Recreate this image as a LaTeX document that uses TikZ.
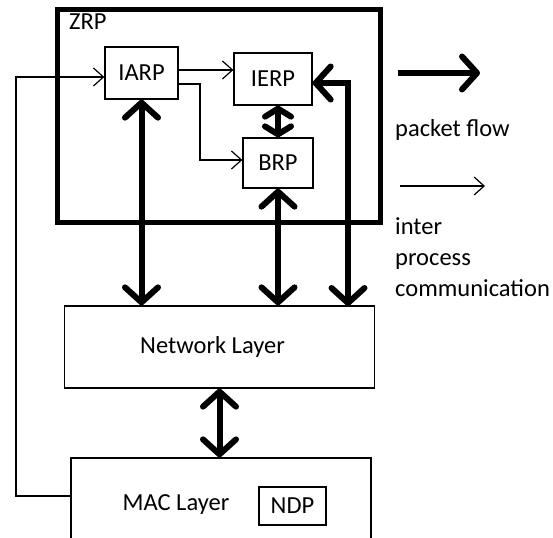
\documentclass[tikz,border=0pt]{standalone}
\usepackage{fontspec}
\setmainfont{Carlito}
\usetikzlibrary{arrows.meta}
\tikzset{
  procbox/.style={rectangle,draw,line width=1.3pt,inner sep=0pt,font=\fontsize{24.5}{29}\selectfont},
  zonebox/.style={rectangle,draw,line width=5pt,inner sep=0pt},
  plainlbl/.style={inner sep=0pt,font=\fontsize{24.5}{31}\selectfont},
  pktboth/.style={{Straight Barb[length=15pt,width=33pt,round]}-{Straight Barb[length=15pt,width=33pt,round]},line width=6pt},
  pktshort/.style={{Straight Barb[length=8pt,width=26pt,round]}-{Straight Barb[length=8pt,width=26pt,round]},line width=6pt},
  pktone/.style={-{Straight Barb[length=15pt,width=33pt,round]},line width=6pt},
  ipc/.style={-{Straight Barb[length=10pt,width=18pt]},line width=1.2pt}
}

\begin{document}
\begin{tikzpicture}[x=1pt,y=-1pt]
  \useasboundingbox (0,0) rectangle (553,537);
  \clip (0,0) rectangle (553,537);
  % zone routing block
  \node[zonebox,minimum width=323pt,minimum height=212pt] (zrp) at (218.5,116) {};
  \node[plainlbl,anchor=west] (zrplbl) at (69,22) {ZRP};
  \node[procbox,minimum width=73pt,minimum height=52pt] (iarp) at (141.5,73) {IARP};
  \node[procbox,minimum width=78pt,minimum height=52pt] (ierp) at (273,79) {IERP};
  \node[procbox,minimum width=70pt,minimum height=50pt] (brp) at (278,163) {BRP};
  % layers
  \node[procbox,minimum width=310pt,minimum height=82pt] (net) at (219.5,347) {};
  \node[plainlbl] (netlbl) at (212.5,347) {Network Layer};
  \node[procbox,minimum width=300pt,minimum height=100pt] (mac) at (221,508) {};
  \node[plainlbl] (maclbl) at (176,505) {MAC Layer};
  \node[procbox,minimum width=67pt,minimum height=38pt] (ndp) at (292.5,506) {NDP};
  % inter process communication
  \coordinate (fbk) at (16,300);
  \coordinate (ia1) at ([yshift=3pt]iarp.east);
  \coordinate (ia2) at ([yshift=-11pt]iarp.east);
  \coordinate (bend) at (200,160);
  \draw[ipc] ([yshift=12pt]mac.west) -| (fbk) |- ([yshift=-4pt]iarp.west);
  \draw[ipc] (ia1) -- (ia1 -| ierp.west);
  \draw[ipc] (ia2) -| (bend) -- (bend -| brp.west);
  % packet flow
  \coordinate (ierpdown) at (348,306);
  \draw[pktboth] (iarp.south) -- (iarp.south |- net.north);
  \draw[pktshort] (brp.north |- ierp.south) -- (brp.north);
  \draw[pktboth] (brp.south) -- (brp.south |- net.north);
  \draw[pktboth] ([yshift=-4pt]ierp.east) -| (ierpdown);
  \draw[pktboth] (net.south) -- (net.south |- mac.north);
  % legend
  \coordinate (pk1) at (398,73);
  \coordinate (pk2) at (480,73);
  \coordinate (ip1) at (400,186);
  \coordinate (ip2) at (485,186);
  \draw[pktone] (pk1) -- (pk2);
  \node[plainlbl,anchor=west] (pklbl) at (395,130) {packet flow};
  \draw[ipc] (ip1) -- (ip2);
  \node[plainlbl,anchor=north west,align=left] (iplbl) at (395,217) {inter\\process\\communication};
\end{tikzpicture}
\end{document}
